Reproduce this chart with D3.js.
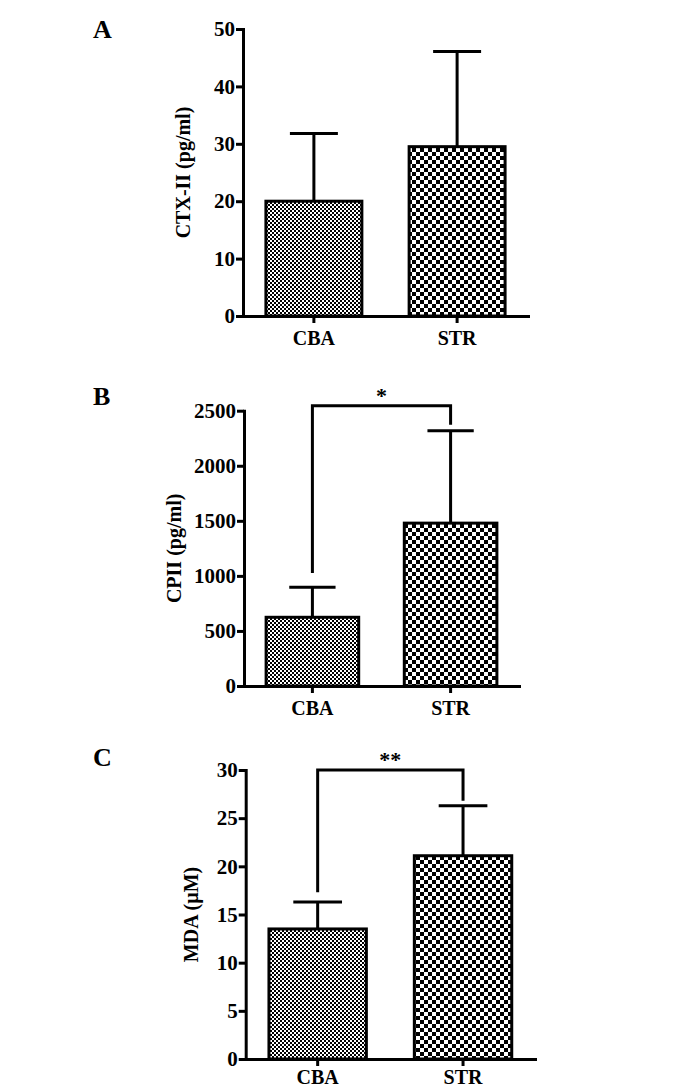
<!DOCTYPE html>
<html>
<meta charset="utf-8" />
<style>
  body { margin: 0; background: #fff; }
  text { font-family: "Liberation Serif", "Times New Roman", serif; font-weight: bold; fill: #000; }
</style>
<svg width="688" height="1088"></svg>
<script src="https://d3js.org/d3.v7.min.js"></script>
<script>
// data
var groups = ["CBA", "STR"];

var ctxMean = [20.0, 29.5],
    ctxErr = [11.8, 16.6],
    ctxTicks = [0, 10, 20, 30, 40, 50];

var cpiiMean = [624, 1479],
    cpiiErr = [273, 839],
    cpiiTicks = [0, 500, 1000, 1500, 2000, 2500];

var mdaMean = [13.5, 21.1],
    mdaErr = [2.8, 5.2],
    mdaTicks = [0, 5, 10, 15, 20, 25, 30];

// significance brackets: [left leg end, bar height, right leg end]
var cpiiBracket = [1027, 2545, 2372];
var mdaBracket = [17.3, 30.0, 26.8];

var svg = d3.select("svg");

var defs = svg.append("defs");
// fine checker (CBA) and coarse checker (STR)
function checker(id, c) {
  var p = defs.append("pattern")
      .attr("id", id)
      .attr("patternUnits", "userSpaceOnUse")
      .attr("width", 2 * c)
      .attr("height", 2 * c);
  p.append("rect").attr("width", 2 * c).attr("height", 2 * c).attr("fill", "#fff");
  p.append("rect").attr("width", c).attr("height", c).attr("fill", "#000");
  p.append("rect").attr("x", c).attr("y", c).attr("width", c).attr("height", c).attr("fill", "#000");
}
checker("fine", 2);
checker("coarse", 4);
var fills = ["url(#fine)", "url(#coarse)"];

var panels = [
  { letter: "A", letterY: 38, title: "CTX-II (pg/ml)", titleX: 190, catPad: 8,
    mean: ctxMean, err: ctxErr, ticks: ctxTicks,
    x0: 243, x1: 528, y0: 316, y1: 29 },
  { letter: "B", letterY: 405, title: "CPII (pg/ml)", titleX: 181, catPad: 8,
    mean: cpiiMean, err: cpiiErr, ticks: cpiiTicks, bracket: cpiiBracket, star: "*",
    x0: 244, x1: 519, y0: 686, y1: 410.7 },
  { letter: "C", letterY: 766, title: "MDA (\u00b5M)", titleX: 198, catPad: 4,
    mean: mdaMean, err: mdaErr, ticks: mdaTicks, bracket: mdaBracket, star: "**",
    x0: 245.7, x1: 535, y0: 1059, y1: 770 }
];

panels.forEach(function(p) {
  var g = svg.append("g");

  var x = d3.scaleBand()
      .domain(groups)
      .range([p.x0, p.x1])
      .paddingInner(0.33)
      .paddingOuter(0.16);

  var y = d3.scaleLinear()
      .domain([0, d3.max(p.ticks)])
      .range([p.y0, p.y1]);

  var bw = x.bandwidth();

  // bars
  g.selectAll(".bar")
      .data(groups)
    .enter().append("rect")
      .attr("class", "bar")
      .attr("x", function(d) { return x(d); })
      .attr("width", bw)
      .attr("y", function(d, i) { return y(p.mean[i]); })
      .attr("height", function(d, i) { return y(0) - y(p.mean[i]); })
      .attr("fill", function(d, i) { return fills[i]; })
      .attr("stroke", "#000")
      .attr("stroke-width", 3);

  // error bars (upper only)
  g.selectAll(".err")
      .data(groups)
    .enter().append("path")
      .attr("class", "err")
      .attr("fill", "none")
      .attr("stroke", "#000")
      .attr("stroke-width", 3)
      .attr("d", function(d, i) {
        var cx = x(d) + bw / 2,
            top = y(p.mean[i] + p.err[i]);
        return "M" + cx + "," + y(p.mean[i]) + "V" + top +
               "M" + (cx - bw / 4) + "," + top + "H" + (cx + bw / 4);
      });

  // axes
  var yAxis = g.append("g")
      .attr("transform", "translate(" + p.x0 + ",0)")
      .call(d3.axisLeft(y).tickValues(p.ticks).tickFormat(d3.format("d"))
        .tickSize(7).tickSizeOuter(0).tickPadding(1));

  var xAxis = g.append("g")
      .attr("transform", "translate(0," + p.y0 + ")")
      .call(d3.axisBottom(x).tickSize(7).tickSizeOuter(0).tickPadding(p.catPad));

  [yAxis, xAxis].forEach(function(a) {
    a.select(".domain").attr("stroke-width", 3).attr("stroke-linecap", "square");
    a.selectAll(".tick line").attr("stroke-width", 3);
    a.selectAll(".tick text")
      .style("font-family", "'Liberation Serif', 'Times New Roman', serif")
      .style("font-weight", "bold")
      .style("font-size", "20px")
      .attr("fill", "#000");
  });
  yAxis.selectAll(".tick text").style("font-size", "21px");

  // axis title
  g.append("text")
      .attr("transform", "translate(" + p.titleX + "," + (p.y0 + p.y1) / 2 + ") rotate(-90)")
      .attr("text-anchor", "middle")
      .style("font-size", "20px")
      .text(p.title);

  // panel letter
  g.append("text")
      .attr("x", 93)
      .attr("y", p.letterY)
      .style("font-size", "26px")
      .text(p.letter);

  // significance bracket
  if (p.bracket) {
    var lx = x(groups[0]) + bw / 2,
        rx = x(groups[1]) + bw / 2,
        by = y(p.bracket[1]);
    g.append("path")
        .attr("fill", "none")
        .attr("stroke", "#000")
        .attr("stroke-width", 3)
        .attr("d", "M" + lx + "," + y(p.bracket[0]) + "V" + by + "H" + rx + "V" + y(p.bracket[2]));
    g.append("text")
        .attr("x", (lx + rx) / 2)
        .attr("y", by - 3)
        .attr("text-anchor", "middle")
        .style("font-size", "22px")
        .text(p.star);
  }
});
</script>
</html>
